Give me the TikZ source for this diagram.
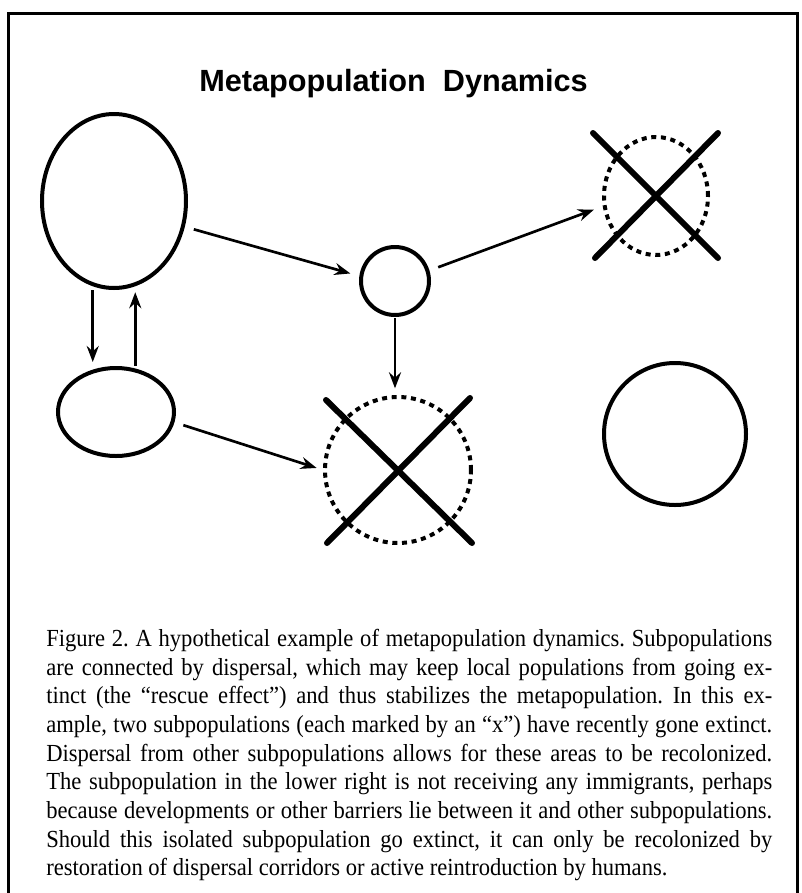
\documentclass[tikz,border=0pt]{standalone}
\usepackage{fontspec}
\setmainfont{Liberation Serif}
\setsansfont{Liberation Sans}
\newfontfamily\captionface{Liberation Serif}[FakeStretch=0.92]
\usetikzlibrary{arrows.meta,shapes.geometric}
\tikzset{
  patch/.style={
    ellipse, draw, line width=3pt, inner sep=0pt
  },
  lost patch/.style={
    ellipse, draw, line width=3pt, inner sep=0pt,
    dash pattern=on 3.75pt off 3.5pt
  },
  dispersal/.style={-{Stealth[length=12pt,width=9pt,inset=4pt]}, line width=2pt},
  extinct mark/.style={line width=4.5pt, line cap=round},
  heading/.style={font=\sffamily\bfseries\fontsize{23}{27}\selectfont, inner sep=0pt},
  caption text/.style={
    font=\captionface\fontsize{18.4}{21.5}\selectfont\frenchspacing, text width=544.5pt,
    align=justify, inner sep=0pt
  }
}

\begin{document}
\begin{tikzpicture}[x=0.75pt, y=-0.75pt]
    \useasboundingbox (0,0) rectangle (801,893);
    \draw[line width=2.25pt] (8,893) -- (8,13) -- (797,13) -- (797,893);
    \node[heading, anchor=base] (title) at (393.5,91) {Metapopulation\ \ Dynamics};
    \node[patch, minimum width=108pt, minimum height=130.5pt] (large) at (114,201) {};
    \node[patch, minimum width=87pt, minimum height=66pt] (small) at (116,412) {};
    \node[patch, minimum width=51pt, minimum height=51pt] (hub) at (395,281) {};
    \node[lost patch, minimum width=78pt, minimum height=88.5pt] (gonetop) at (656,196) {};
    \node[lost patch, minimum width=109.5pt, minimum height=109.5pt] (gonemid) at (398,470) {};
    \node[patch, minimum width=106.5pt, minimum height=106.5pt] (isolated) at (675,434) {};
    \draw[extinct mark] ([shift={(-63,-63)}]gonetop.center) -- ([shift={(62,62)}]gonetop.center);
    \draw[extinct mark] ([shift={(-61,62)}]gonetop.center) -- ([shift={(62,-63)}]gonetop.center);
    \draw[extinct mark] ([shift={(-72,-70)}]gonemid.center) -- ([shift={(74,73)}]gonemid.center);
    \draw[extinct mark] ([shift={(-71,73)}]gonemid.center) -- ([shift={(72,-72)}]gonemid.center);
    \draw[dispersal, shorten <=3pt, shorten >=3pt] (large.256) -- (large.256 |- small.north);
    \draw[dispersal, shorten >=4.5pt] (large.284 |- small.north) -- (large.284);
    \draw[dispersal, shorten <=7pt, shorten >=7pt] (large.-20) -- (hub.172);
    \draw[dispersal, shorten <=7pt, shorten >=7pt] (hub.17) -- (gonetop.191);
    \draw[dispersal, shorten <=1pt, shorten >=5pt] (hub.south) -- (hub.south |- gonemid.north);
    \draw[dispersal, shorten <=7pt, shorten >=5pt] (small.-10) -- (gonemid.west);
    \node[caption text, anchor=north west] (caption) at (46,629) {Figure 2. A hypothetical example of metapopulation dynamics. Subpopulations\linebreak
      are connected by dispersal, which may keep local populations from going ex-\linebreak
      tinct (the “rescue effect”) and thus stabilizes the metapopulation. In this ex-\linebreak
      ample, two subpopulations (each marked by an “x”) have recently gone extinct.\linebreak
      Dispersal from other subpopulations allows for these areas to be recolonized.\linebreak
      The subpopulation in the lower right is not receiving any immigrants, perhaps\linebreak
      because developments or other barriers lie between it and other subpopulations.\linebreak
      Should this isolated subpopulation go extinct, it can only be recolonized by\linebreak
      restoration of dispersal corridors or active reintroduction by humans.};
  \end{tikzpicture}
\end{document}
